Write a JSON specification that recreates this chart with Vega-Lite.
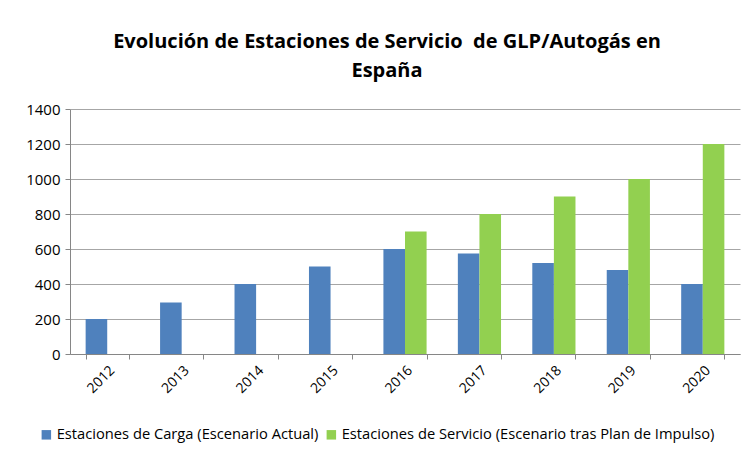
{
  "$schema": "https://vega.github.io/schema/vega-lite/v6.json",
  "autosize": {"type": "none"},
  "width": 670,
  "height": 245,
  "padding": {"left": 70, "top": 109, "right": 1, "bottom": 104},
  "background": "white",
  "title": {
    "text": ["Evolución de Estaciones de Servicio\u00a0 de GLP/Autogás en", "España"],
    "font": "Open Sans",
    "fontSize": 20,
    "fontWeight": "bold",
    "color": "#000000",
    "anchor": "middle",
    "frame": "group",
    "dx": -18,
    "offset": 21,
    "lineHeight": 29
  },
  "data": {
    "values": [
      {"year": "2012", "serie": "Estaciones de Carga (Escenario Actual)", "value": 200},
      {"year": "2013", "serie": "Estaciones de Carga (Escenario Actual)", "value": 295},
      {"year": "2014", "serie": "Estaciones de Carga (Escenario Actual)", "value": 400},
      {"year": "2015", "serie": "Estaciones de Carga (Escenario Actual)", "value": 500},
      {"year": "2016", "serie": "Estaciones de Carga (Escenario Actual)", "value": 600},
      {"year": "2017", "serie": "Estaciones de Carga (Escenario Actual)", "value": 575},
      {"year": "2018", "serie": "Estaciones de Carga (Escenario Actual)", "value": 520},
      {"year": "2019", "serie": "Estaciones de Carga (Escenario Actual)", "value": 480},
      {"year": "2020", "serie": "Estaciones de Carga (Escenario Actual)", "value": 400},
      {"year": "2016", "serie": "Estaciones de Servicio (Escenario tras Plan de Impulso)", "value": 700},
      {"year": "2017", "serie": "Estaciones de Servicio (Escenario tras Plan de Impulso)", "value": 800},
      {"year": "2018", "serie": "Estaciones de Servicio (Escenario tras Plan de Impulso)", "value": 900},
      {"year": "2019", "serie": "Estaciones de Servicio (Escenario tras Plan de Impulso)", "value": 1000},
      {"year": "2020", "serie": "Estaciones de Servicio (Escenario tras Plan de Impulso)", "value": 1200}
    ]
  },
  "mark": {"type": "bar"},
  "encoding": {
    "x": {
      "field": "year",
      "type": "nominal",
      "scale": {"paddingInner": 0.42, "paddingOuter": 0.21},
      "axis": {
        "title": null,
        "labelAngle": -45,
        "labelFont": "Open Sans",
        "labelFontSize": 14,
        "labelColor": "#000000",
        "labelPadding": 4,
        "tickBand": "extent",
        "tickSize": 5,
        "tickColor": "#868686",
        "domainColor": "#868686",
        "grid": false
      }
    },
    "xOffset": {
      "field": "serie",
      "type": "nominal",
      "sort": [
        "Estaciones de Carga (Escenario Actual)",
        "Estaciones de Servicio (Escenario tras Plan de Impulso)"
      ]
    },
    "y": {
      "field": "value",
      "type": "quantitative",
      "scale": {"domain": [0, 1400], "nice": false},
      "axis": {
        "title": null,
        "values": [0, 200, 400, 600, 800, 1000, 1200, 1400],
        "format": "d",
        "labelFont": "Open Sans",
        "labelFontSize": 15,
        "labelColor": "#000000",
        "labelPadding": 5,
        "tickSize": 5,
        "tickColor": "#868686",
        "domainColor": "#868686",
        "gridColor": "#a6a6a6",
        "gridWidth": 1
      }
    },
    "color": {
      "field": "serie",
      "type": "nominal",
      "scale": {
        "domain": [
          "Estaciones de Carga (Escenario Actual)",
          "Estaciones de Servicio (Escenario tras Plan de Impulso)"
        ],
        "range": ["#4F81BD", "#92D050"]
      },
      "legend": {
        "title": null,
        "orient": "none",
        "legendX": -31,
        "legendY": 318,
        "direction": "horizontal",
        "symbolType": "square",
        "symbolSize": 90,
        "symbolStrokeWidth": 0,
        "labelFont": "Open Sans",
        "labelFontSize": 14.7,
        "labelColor": "#000000",
        "labelLimit": 450,
        "columnPadding": 5,
        "labelOffset": 3
      }
    }
  },
  "config": {"view": {"stroke": null}}
}
